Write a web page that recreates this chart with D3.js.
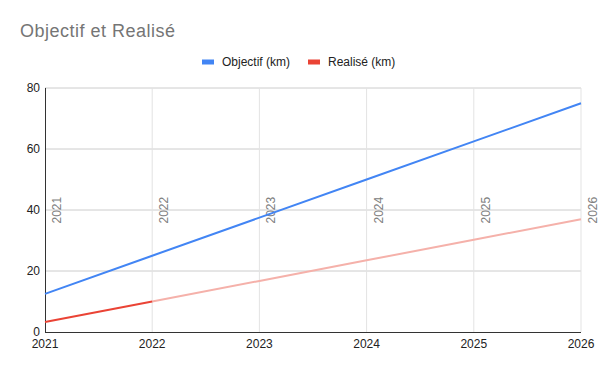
<!DOCTYPE html>
<html>
<head>
    <script src="https://d3js.org/d3.v7.min.js"></script>
    <meta charset="utf-8">
    <style>
        body { margin: 0; background: #fff; }
        svg text { font-family: "Liberation Sans", Arial, sans-serif; }
    </style>
</head>
<body>
<div id="my_dataviz"></div>
<script>
    // chart data
    var years = [2021, 2022, 2023, 2024, 2025, 2026];
    var objectif = [12.5, 25, 37.5, 50, 62.5, 75];
    var realise = [3.25, 10];                       // actual values so far
    var realiseTrend = [10, 16.75, 23.5, 30.25, 37]; // projection from 2022 on
    var yTicks = [0, 20, 40, 60, 80];

    var width = 600, height = 371;
    var margin = { top: 88, right: 19, bottom: 39, left: 45 };

    var svg = d3.select("#my_dataviz")
        .append("svg")
        .attr("width", width)
        .attr("height", height);

    var x = d3.scaleLinear()
        .domain([2021, 2026])
        .range([margin.left, width - margin.right]);

    var y = d3.scaleLinear()
        .domain([0, 80])
        .range([height - margin.bottom, margin.top]);

    // title
    svg.append("text")
        .attr("x", 20)
        .attr("y", 37)
        .style("font-size", "18px")
        .style("letter-spacing", "0.5px")
        .style("fill", "#757575")
        .text("Objectif et Realisé");

    // legend
    var legend = [
        { name: "Objectif (km)", color: "#4285f4", x: 202 },
        { name: "Realisé (km)", color: "#ea4335", x: 308 }
    ];
    var lg = svg.append("g").selectAll("g")
        .data(legend)
        .enter()
        .append("g")
        .attr("transform", d => "translate(" + d.x + ",62)");
    lg.append("rect")
        .attr("x", 0).attr("y", -2.5)
        .attr("width", 12).attr("height", 5)
        .attr("fill", d => d.color);
    lg.append("text")
        .attr("x", 20).attr("y", 4)
        .style("font-size", "12px")
        .style("fill", "#222")
        .text(d => d.name);

    // horizontal grid
    svg.append("g")
        .selectAll("line")
        .data(yTicks.slice(1))
        .enter()
        .append("line")
        .attr("x1", margin.left).attr("x2", width - margin.right)
        .attr("y1", d => y(d)).attr("y2", d => y(d))
        .style("stroke", "#cccccc")
        .style("stroke-width", 1);

    // vertical grid
    svg.append("g")
        .selectAll("line")
        .data(years.slice(1))
        .enter()
        .append("line")
        .attr("x1", d => x(d)).attr("x2", d => x(d))
        .attr("y1", margin.top).attr("y2", height - margin.bottom)
        .style("stroke", "#e3e3e3")
        .style("stroke-width", 1);

    // rotated year labels next to each gridline
    svg.append("g")
        .selectAll("text")
        .data(years)
        .enter()
        .append("text")
        .attr("transform", d => "translate(" + (x(d) + 16) + ",223.5) rotate(-90)")
        .style("font-size", "12px")
        .style("fill", "#808080")
        .text(d => d);

    // y axis labels
    svg.append("g")
        .selectAll("text")
        .data(yTicks)
        .enter()
        .append("text")
        .attr("x", margin.left - 5)
        .attr("y", d => y(d) + 4)
        .attr("text-anchor", "end")
        .style("font-size", "12px")
        .style("fill", "#222")
        .text(d => d);

    // x axis labels
    svg.append("g")
        .selectAll("text")
        .data(years)
        .enter()
        .append("text")
        .attr("x", d => x(d))
        .attr("y", height - margin.bottom + 16)
        .attr("text-anchor", "middle")
        .style("font-size", "12px")
        .style("fill", "#222")
        .text(d => d);

    // axis lines
    svg.append("line")
        .attr("x1", margin.left).attr("x2", width - margin.right)
        .attr("y1", y(0) + 0.5).attr("y2", y(0) + 0.5)
        .style("stroke", "#333").style("stroke-width", 1);
    svg.append("line")
        .attr("x1", margin.left + 0.5).attr("x2", margin.left + 0.5)
        .attr("y1", margin.top).attr("y2", y(0))
        .style("stroke", "#333").style("stroke-width", 1);

    var line = d3.line()
        .x(d => x(d[0]))
        .y(d => y(d[1]));

    svg.append("path")
        .datum(realiseTrend.map((v, i) => [years[i + 1], v]))
        .attr("d", line)
        .style("fill", "none")
        .style("stroke", "#f5b1aa")
        .style("stroke-width", 2);

    svg.append("path")
        .datum(realise.map((v, i) => [years[i], v]))
        .attr("d", line)
        .style("fill", "none")
        .style("stroke", "#ea4335")
        .style("stroke-width", 2);

    svg.append("path")
        .datum(objectif.map((v, i) => [years[i], v]))
        .attr("d", line)
        .style("fill", "none")
        .style("stroke", "#4285f4")
        .style("stroke-width", 2);
</script>
</body>
</html>
